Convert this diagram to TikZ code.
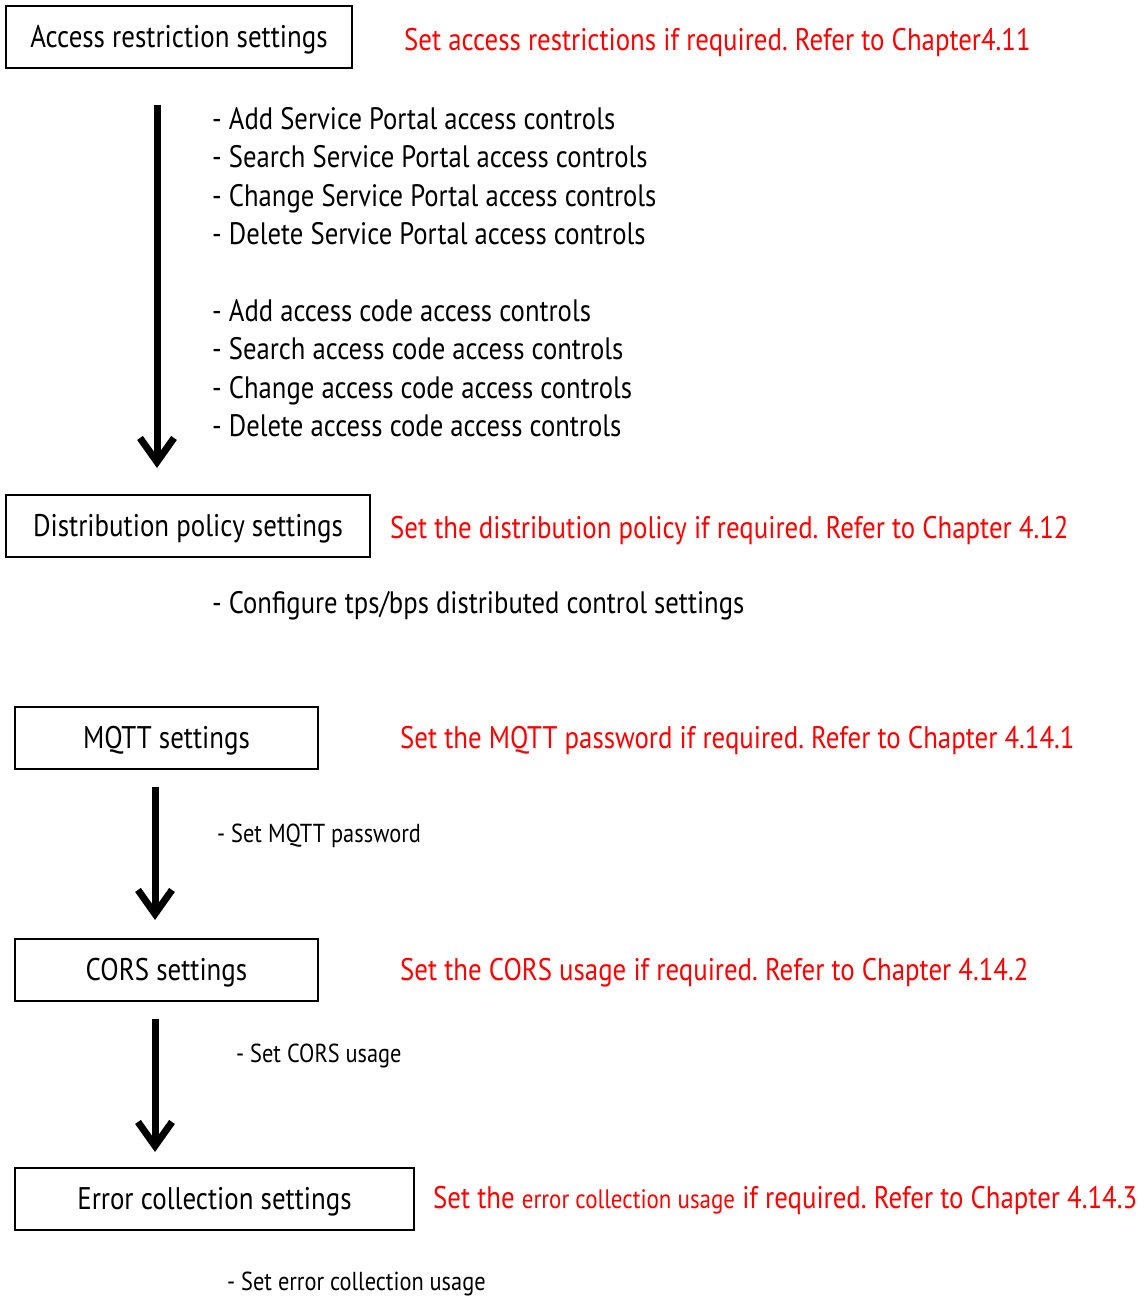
\documentclass[tikz,border=0pt]{standalone}
\usepackage{fontspec}
\setmainfont[FakeStretch=0.86]{PT Sans}
\usetikzlibrary{arrows.meta}
\definecolor{notered}{RGB}{255,0,0}
\frenchspacing
\tikzset{
  stepbox/.style={draw, line width=2pt, minimum height=62pt, inner sep=0pt,
    text height=25.5pt, text depth=4.5pt, font=\fontsize{31.3}{36}\selectfont},
  note/.style={anchor=west, inner sep=0pt, text=notered, font=\fontsize{31.2}{36}\selectfont},
  item/.style={anchor=west, inner sep=0pt, align=left, font=\fontsize{31}{38.4}\selectfont},
  subitem/.style={anchor=west, inner sep=0pt, font=\fontsize{26}{30}\selectfont},
  flow/.style={line width=7pt, -{Straight Barb[length=24pt, width=34pt, line width=7pt]}},
}
\begin{document}
\begin{tikzpicture}[x=1pt, y=-1pt]
  \useasboundingbox (0,0) rectangle (1146,1297);
  % step boxes
  \node[stepbox, minimum width=346pt] (access) at (179,37) {Access restriction settings};
  \node[stepbox, minimum width=364pt] (dist) at (188,525.5) {Distribution policy settings};
  \node[stepbox, minimum width=303pt] (mqtt) at (166.5,738) {MQTT settings};
  \node[stepbox, minimum width=303pt] (cors) at (166.5,970) {CORS settings};
  \node[stepbox, minimum width=399pt] (err) at (214.5,1199) {Error collection settings};
  % notes in red
  \node[note] (accessnote) at (404,42.5) {Set access restrictions if required. Refer to Chapter4.11};
  \node[note] (distnote) at (390,530.5) {Set the distribution policy if required. Refer to Chapter 4.12};
  \node[note] (mqttnote) at (400,740.5) {Set the MQTT password if required. Refer to Chapter 4.14.1};
  \node[note] (corsnote) at (400,972.5) {Set the CORS usage if required. Refer to Chapter 4.14.2};
  \node[note] (errnote) at (433,1200.5) {Set the {\fontsize{26.7}{30}\selectfont error collection usage} if required. Refer to Chapter 4.14.3};
  % item lists
  \node[item] (portal) at (212,176) {- Add Service Portal access controls\\- Search Service Portal access controls\\- Change Service Portal access controls\\- Delete Service Portal access controls};
  \node[item] (code) at (212,368) {- Add access code access controls\\- Search access code access controls\\- Change access code access controls\\- Delete access code access controls};
  \node[item] (tps) at (212,605.5) {- Configure tps/bps distributed control settings};
  \node[subitem] (mqttpw) at (217,836) {- Set MQTT password};
  \node[subitem] (corsuse) at (236,1056) {- Set CORS usage};
  \node[subitem] (erruse) at (227,1284) {- Set error collection usage};
  % flow arrows
  \coordinate (f1s) at (157,105);
  \coordinate (f1e) at (157,468);
  \coordinate (f2s) at (155,787);
  \coordinate (f2e) at (155,920);
  \coordinate (f3s) at (155,1019);
  \coordinate (f3e) at (155,1152);
  \draw[flow] (f1s) -- (f1e);
  \draw[flow] (f2s) -- (f2e);
  \draw[flow] (f3s) -- (f3e);
\end{tikzpicture}
\end{document}
